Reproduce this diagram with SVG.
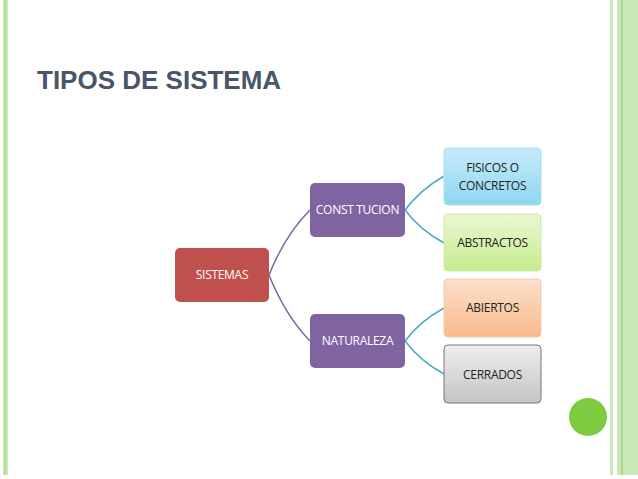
<svg xmlns="http://www.w3.org/2000/svg" width="638" height="479" viewBox="0 0 638 479">
<style>
.t{font-family:"Open Sans","Liberation Sans",Arial,sans-serif;font-size:12px;text-anchor:middle;letter-spacing:-0.3px}
.w{fill:#fff}
.k{fill:#222}
.cp{fill:none;stroke:#8064a2;stroke-width:1.5}
.cb{fill:none;stroke:#4bacc6;stroke-width:1.5}
</style>
<defs>
<linearGradient id="gb" x1="0" y1="0" x2="0" y2="1"><stop offset="0" stop-color="#c6ebf8"/><stop offset="1" stop-color="#8fd6f1"/></linearGradient>
<linearGradient id="gg" x1="0" y1="0" x2="0" y2="1"><stop offset="0" stop-color="#eaf7d2"/><stop offset="1" stop-color="#c8ec8e"/></linearGradient>
<linearGradient id="go" x1="0" y1="0" x2="0" y2="1"><stop offset="0" stop-color="#fce0cc"/><stop offset="1" stop-color="#f8b98a"/></linearGradient>
<linearGradient id="gy" x1="0" y1="0" x2="0" y2="1"><stop offset="0" stop-color="#eeeeee"/><stop offset="1" stop-color="#c4c4c4"/></linearGradient>
</defs>
<rect width="638" height="479" fill="#fff"/>
<rect x="3" y="0" width="5" height="475" fill="#c9e8b8"/>
<line x1="5" y1="0" x2="5" y2="475" stroke="#9ed486" stroke-width="1"/>
<rect x="610" y="0" width="3" height="475" fill="#c9e8b8"/>
<rect x="617" y="0" width="21" height="475" fill="#c9e8b8"/>
<line x1="622" y1="0" x2="622" y2="475" stroke="#8cc970" stroke-width="1"/>
<circle cx="588" cy="417" r="19" fill="#7dcb3f"/>
<text x="37" y="89" font-family="Liberation Sans,Arial,sans-serif" font-weight="bold" font-size="26" fill="#4a5568">TIPOS DE SISTEMA</text>
<g id="connectors">
<path class="cp" d="M269,275 Q285,235 310,210"/>
<path class="cp" d="M269,275 Q285,315 310,341"/>
<path class="cb" d="M405,210 Q420,190 444,176"/>
<path class="cb" d="M405,210 Q420,230 444,243"/>
<path class="cb" d="M405,341 Q420,321 444,308"/>
<path class="cb" d="M405,341 Q420,361 444,374"/>
</g>
<g id="sistemas"><rect x="175" y="248" width="94" height="54" rx="5" fill="#c0504d"/><text class="t w" x="222" y="279">SISTEMAS</text></g>
<g id="constitucion"><rect x="310" y="183" width="95" height="54" rx="5" fill="#8064a2"/><text class="t w" x="357.5" y="214">CONST TUCION</text></g>
<g id="naturaleza"><rect x="310" y="314" width="95" height="54" rx="5" fill="#8064a2"/><text class="t w" x="357.5" y="345">NATURALEZA</text></g>
<g id="fisicos"><rect x="444" y="148" width="97" height="57" rx="4" fill="url(#gb)" stroke="#a8dff2"/><text class="t k" x="492.5" y="172">FISICOS O</text><text class="t k" x="492.5" y="190">CONCRETOS</text></g>
<g id="abstractos"><rect x="444" y="214" width="97" height="57" rx="4" fill="url(#gg)" stroke="#cfe8a8"/><text class="t k" x="492.5" y="247">ABSTRACTOS</text></g>
<g id="abiertos"><rect x="444" y="279" width="97" height="58" rx="4" fill="url(#go)" stroke="#f5c9a8"/><text class="t k" x="492.5" y="312">ABIERTOS</text></g>
<g id="cerrados"><rect x="444" y="345" width="97" height="58" rx="4" fill="url(#gy)" stroke="#777"/><text class="t k" x="492.5" y="379">CERRADOS</text></g>
</svg>
